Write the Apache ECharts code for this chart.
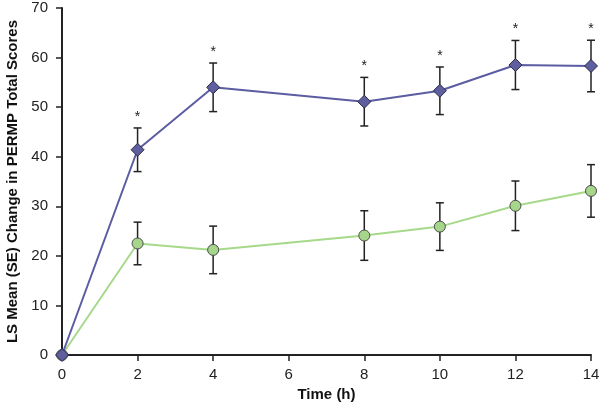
<!DOCTYPE html>
<html>
<head>
<meta charset="utf-8">
<script src="https://cdn.jsdelivr.net/npm/echarts@6/dist/echarts.min.js"></script>
<style>
  html, body { margin: 0; padding: 0; background: #fff; }
  #main { width: 600px; height: 408px; }
</style>
</head>
<body>
<div id="main"></div>
<script>
// time points (h)
var hours = [0, 2, 4, 8, 10, 12, 14];
// purple diamonds
var purpleMean = [0, 41.4, 54.0, 51.1, 53.3, 58.5, 58.3];
var purpleSE = [0, 4.4, 4.9, 4.9, 4.8, 4.95, 5.2];
var purpleStar = [false, true, true, true, true, true, true];
// green circles
var greenMean = [0, 22.5, 21.2, 24.1, 25.9, 30.1, 33.1];
var greenSE = [0, 4.3, 4.8, 5.0, 4.8, 5.0, 5.3];

var font = '"Liberation Sans", Arial, Helvetica, sans-serif';

function pairs(xs, ys) {
  return xs.map(function (x, i) { return [x, ys[i]]; });
}
function errData(xs, m, se, star) {
  return xs.map(function (x, i) {
    return [x, m[i] - se[i], m[i] + se[i], star ? (star[i] ? 1 : 0) : 0];
  });
}

// error bars + asterisks
function renderErr(params, api) {
  var x = api.value(0);
  var lo = api.coord([x, api.value(1)]);
  var hi = api.coord([x, api.value(2)]);
  var cap = 4;
  var st = { stroke: '#222', lineWidth: 1.5 };
  var kids = [];
  if (Math.abs(hi[1] - lo[1]) > 0.5) {
    kids.push({ type: 'line', shape: { x1: lo[0], y1: lo[1], x2: hi[0], y2: hi[1] }, style: st });
    kids.push({ type: 'line', shape: { x1: hi[0] - cap, y1: hi[1], x2: hi[0] + cap, y2: hi[1] }, style: st });
    kids.push({ type: 'line', shape: { x1: lo[0] - cap, y1: lo[1], x2: lo[0] + cap, y2: lo[1] }, style: st });
  }
  if (api.value(3)) {
    kids.push({
      type: 'text',
      style: {
        text: '*', x: hi[0], y: hi[1] - 4,
        align: 'center', verticalAlign: 'bottom',
        font: '14px ' + font, fill: '#222'
      }
    });
  }
  return { type: 'group', children: kids };
}

var chart = echarts.init(document.getElementById('main'));
chart.setOption({
  animation: false,
  grid: { left: 62, right: 9, top: 8, bottom: 53, containLabel: false, outerBoundsMode: 'none' },
  xAxis: {
    type: 'value', min: 0, max: 14, interval: 2,
    name: 'Time (h)', nameLocation: 'middle', nameGap: 31,
    nameTextStyle: { fontFamily: font, fontWeight: 'bold', fontSize: 15, color: '#111' },
    axisLine: { lineStyle: { color: '#222', width: 2 } },
    axisTick: { show: true, length: 6, lineStyle: { color: '#222', width: 1.5 } },
    axisLabel: { fontFamily: font, fontSize: 15, color: '#222', margin: 12 },
    splitLine: { show: false }
  },
  yAxis: {
    type: 'value', min: 0, max: 70, interval: 10,
    name: 'LS Mean (SE) Change in PERMP Total Scores', nameLocation: 'middle', nameGap: 36,
    nameTextStyle: { fontFamily: font, fontWeight: 'bold', fontSize: 15, color: '#111' },
    axisLine: { show: true, lineStyle: { color: '#222', width: 2 } },
    axisTick: { show: true, length: 6, lineStyle: { color: '#222', width: 1.5 } },
    axisLabel: { fontFamily: font, fontSize: 15, color: '#222', margin: 14 },
    splitLine: { show: false }
  },
  series: [
    {
      type: 'custom', renderItem: renderErr, z: 1,
      data: errData(hours, greenMean, greenSE, null)
    },
    {
      type: 'custom', renderItem: renderErr, z: 1,
      data: errData(hours, purpleMean, purpleSE, purpleStar)
    },
    {
      type: 'line', z: 3, data: pairs(hours, greenMean),
      symbol: 'circle', symbolSize: 11, showAllSymbol: true,
      lineStyle: { color: '#a6d98a', width: 2 },
      itemStyle: { color: '#a6d68a', borderColor: '#4a4a4a', borderWidth: 1 }
    },
    {
      type: 'line', z: 4, data: pairs(hours, purpleMean),
      symbol: 'diamond', symbolSize: 13, showAllSymbol: true,
      lineStyle: { color: '#5c5ca3', width: 2 },
      itemStyle: { color: '#5f5e9f', borderColor: '#2a2a4a', borderWidth: 1 }
    }
  ]
});
</script>
</body>
</html>
